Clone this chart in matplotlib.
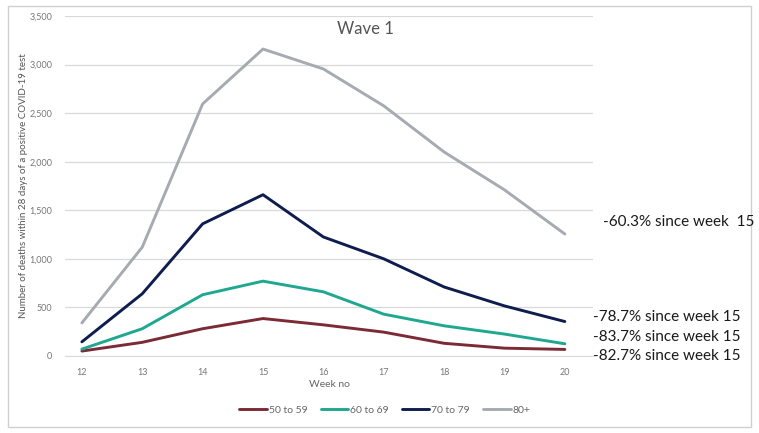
import matplotlib.pyplot as plt
from matplotlib.patches import Rectangle

plt.rcParams['font.family'] = ['Lato', 'DejaVu Sans']

# Data (deaths per week, wave 1)
weeks = [12, 13, 14, 15, 16, 17, 18, 19, 20]
deaths_50_59 = [50, 140, 280, 385, 320, 245, 130, 80, 67]
deaths_60_69 = [70, 280, 630, 770, 660, 430, 310, 225, 125]
deaths_70_79 = [145, 640, 1360, 1660, 1225, 1000, 710, 515, 354]
deaths_80_plus = [340, 1120, 2595, 3160, 2955, 2575, 2100, 1710, 1255]

labels = ['50 to 59', '60 to 69', '70 to 79', '80+']
colors = ['#7b2a36', '#1fa88f', '#0e1d4e', '#a6aab1']
notes = ['-82.7% since week 15', '-83.7% since week 15',
         '-78.7% since week 15', '-60.3% since week  15']
note_y = [356, 337, 317, 222]  # pixel rows of the notes in the reference


def main():
    fig = plt.figure(figsize=(7.59, 4.33), dpi=100)
    ax = fig.add_axes([0.0856, 0.178, 0.696, 0.785])

    series = [deaths_50_59, deaths_60_69, deaths_70_79, deaths_80_plus]
    for vals, lab, col in zip(series, labels, colors):
        ax.plot(weeks, vals, color=col, lw=2.1, label=lab,
                solid_capstyle='round', solid_joinstyle='round')

    ax.set_xlim(11.72, 20.47)
    ax.set_ylim(0, 3500)
    ax.set_yticks(range(0, 3501, 500))
    ax.set_yticklabels(['{:,}'.format(v) for v in range(0, 3501, 500)])
    ax.set_xticks(weeks)
    ax.grid(axis='y', color='#d9d9d9', lw=0.9)
    ax.set_axisbelow(True)
    for s in ['top', 'right', 'left']:
        ax.spines[s].set_visible(False)
    ax.spines['bottom'].set_color('#d9d9d9')
    ax.tick_params(length=0, labelsize=6.5, labelcolor='#777777', pad=9)

    ax.set_xlabel('Week no', fontsize=7.5, color='#666666', labelpad=2)
    ax.set_ylabel('Number of deaths within 28 days of a positive COVID-19 test',
                  fontsize=7, color='#555555')
    ax.yaxis.set_label_coords(-0.07, 0.5)
    fig.text(365 / 759, 1 - 29 / 433, 'Wave 1', ha='center',
             va='center', fontsize=12, color='#555555')

    # right-hand notes, placed in figure pixel coordinates
    for txt, py in zip(notes, note_y):
        x = 603 if 'week  15' in txt else 593
        fig.text(x / 759, 1 - py / 433, txt, fontsize=11, color='#1a1a1a',
                 va='center', ha='left')

    fig.legend(loc='center', bbox_to_anchor=(385 / 759, 1 - 410 / 433),
               ncol=4, frameon=False, fontsize=7.5, handlelength=2.6,
               columnspacing=1.3, handletextpad=0.2, labelcolor='#666666')

    # light frame around the whole chart
    fig.patches.append(Rectangle((8 / 759, 6 / 433), 743 / 759, 421 / 433,
                                 transform=fig.transFigure, fill=False,
                                 ec='#d0d0d0', lw=1))

    fig.savefig('out.png', dpi=100)


if __name__ == "__main__":
    main()
